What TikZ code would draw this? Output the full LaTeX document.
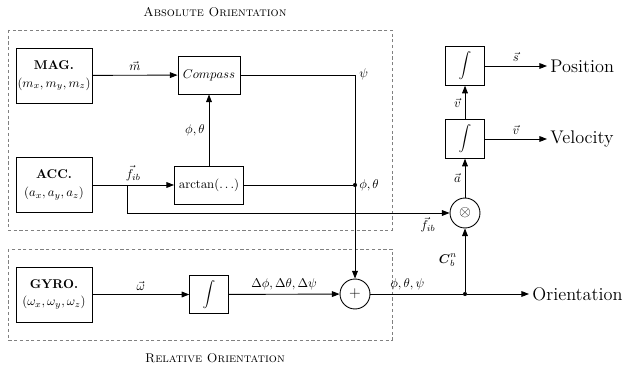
\documentclass[tikz,border=0pt]{standalone}
\usepackage{amsmath}
\usetikzlibrary{arrows.meta}
\begin{document}
\begin{tikzpicture}[x=0.7874pt,y=-0.7874pt,
  blk/.style={draw, line width=0.7pt, inner sep=0pt, align=center},
  sensor/.style={blk, minimum width=59.8pt, minimum height=43.3pt},
  sq/.style={blk, minimum width=30.3pt, minimum height=30.3pt},
  op/.style={draw, circle, line width=0.7pt, inner sep=0pt, minimum size=23.6pt, font=\large},
  con/.style={line width=0.7pt},
  arr/.style={con, -{Triangle[length=6pt,width=4.5pt]}},
  grp/.style={draw=gray, line width=0.5pt, dash pattern=on 2.5pt off 2pt},
  lbl/.style={inner sep=3pt},
  dot/.style={circle, fill, inner sep=0pt, minimum size=3.2pt},
  outtxt/.style={font=\Large, anchor=west, inner sep=2.5pt},
  ttl/.style={font=\scshape}
]
\useasboundingbox (0,0) rectangle (631,369);
\draw[grp] (8,30) rectangle (392,230);
\draw[grp] (8,249) rectangle (392,340);
\node[ttl] (tA) at (215,12) {Absolute Orientation};
\node[ttl] (tR) at (215,358) {Relative Orientation};

\node[sensor] (mag) at (54,75.5) {\textbf{MAG.}\\[2pt]$(m_x,m_y,m_z)$};
\node[sensor] (acc) at (54,185) {\textbf{ACC.}\\[2pt]$(a_x,a_y,a_z)$};
\node[sensor] (gyro) at (54,294.5) {\textbf{GYRO.}\\[2pt]$(\omega_x,\omega_y,\omega_z)$};
\node[blk, minimum width=48.8pt, minimum height=29.9pt] (compass) at (209,75) {$Compass$};
\node[blk, minimum width=54.3pt, minimum height=29.9pt] (arctan) at (209,185) {$\arctan(\ldots)$};
\node[sq] (int1) at (209,294.5) {$\displaystyle\int$};
\node[op] (plus) at (355,294) {$+$};
\node[op] (otimes) at (465,213) {$\otimes$};
\node[sq] (intL) at (465,139) {$\displaystyle\int$};
\node[sq] (intU) at (465,66) {$\displaystyle\int$};
\node[outtxt] (pos) at (547,66) {Position};
\node[outtxt] (vel) at (547,139) {Velocity};
\node[outtxt] (ori) at (529,294) {Orientation};
\node[dot] (d1) at (355,185) {};
\node[dot] (d2) at (465,294) {};
\coordinate (c1) at (355,75);
\coordinate (b1) at (127,185);

\draw[arr] (mag) -- node[lbl, above] {$\vec m$} (compass);
\draw[con] (compass) -- (c1);
\draw[arr] (c1) -- (plus);
\node[inner sep=0pt, anchor=west] (lpsi) at (359,74) {$\psi$};
\draw[arr] (acc) -- node[lbl, above] {$\vec f_{ib}$} (arctan);
\draw[arr] (b1) |- (otimes.west);
\draw[arr] (arctan) -- node[lbl, left] {$\phi,\theta$} (compass);
\draw[con] (arctan) -- (d1);
\node[inner sep=0pt, anchor=west] (lpt) at (359,185) {$\phi,\theta$};
\draw[arr] (gyro) -- node[lbl, above] {$\vec\omega$} (int1);
\draw[arr] (int1) -- node[lbl, above] {$\Delta\phi,\Delta\theta,\Delta\psi$} (plus);
\draw[con] (plus) -- node[lbl, above, pos=0.4] {$\phi,\theta,\psi$} (d2);
\draw[arr] (d2) -- (ori);
\draw[arr] (d2) -- node[lbl, left, xshift=-3pt] {$\boldsymbol{C}_b^n$} (otimes);
\node[inner sep=0pt] (lf2) at (428,225) {$\vec f_{ib}$};
\draw[arr] (otimes) -- node[lbl, left] {$\vec a$} (intL);
\draw[arr] (intL) -- node[lbl, left] {$\vec v$} (intU);
\draw[arr] (intL) -- node[lbl, above] {$\vec v$} (vel);
\draw[arr] (intU) -- node[lbl, above] {$\vec s$} (pos);
\end{tikzpicture}
\end{document}
